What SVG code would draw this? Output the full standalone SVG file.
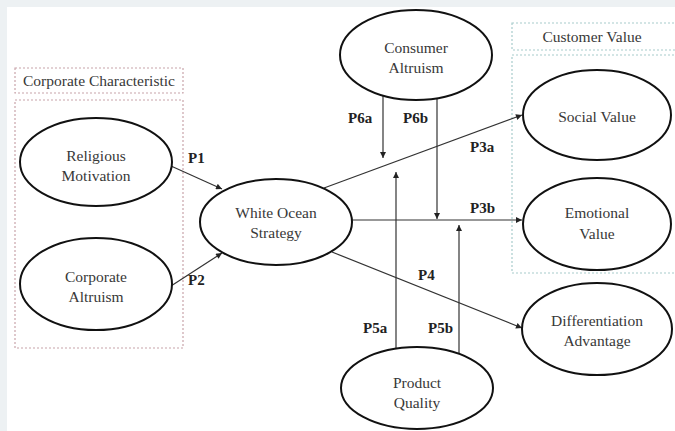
<svg xmlns="http://www.w3.org/2000/svg" width="675" height="431" viewBox="0 0 675 431" font-family="Liberation Serif, Times New Roman, serif">
<defs>
<style>
.bg{fill:#ffffff}
.strip{fill:#edf1f3}
.node{fill:#ffffff;stroke:#111;stroke-width:2}
.nt{font-size:15.5px;fill:#383838;text-anchor:middle}
.lbl{font-size:15px;font-weight:bold;fill:#222}
.edge{fill:none;stroke:#333;stroke-width:1.2;marker-end:url(#ah)}
.boxR{fill:none;stroke:#c8a4aa;stroke-width:1.2;stroke-dasharray:2,2}
.boxT{fill:none;stroke:#a8cccc;stroke-width:1.2;stroke-dasharray:2,2}
</style>
<marker id="ah" viewBox="0 0 10 10" refX="10" refY="5" markerWidth="7" markerHeight="6" markerUnits="userSpaceOnUse" orient="auto">
<path d="M0,0 L10,5 L0,10 z" fill="#222"/>
</marker>
</defs>
<rect class="bg" x="0" y="0" width="675" height="431"/>
<rect class="strip" x="0" y="0" width="675" height="7"/>
<rect class="strip" x="0" y="0" width="7" height="431"/>

<g id="group-corporate">
<rect class="boxR" x="15" y="68" width="168" height="25"/>
<text class="nt" x="99" y="86">Corporate Characteristic</text>
<rect class="boxR" x="15" y="100" width="168" height="248"/>
</g>
<g id="group-customer">
<rect class="boxT" x="512" y="23" width="170" height="27"/>
<text class="nt" x="592" y="42">Customer Value</text>
<rect class="boxT" x="512" y="55" width="170" height="218"/>
</g>

<g id="connectors">
<line class="edge" x1="171" y1="166" x2="222" y2="189"/>
<line class="edge" x1="171" y1="286" x2="222" y2="253"/>
<line class="edge" x1="324" y1="188" x2="522" y2="115"/>
<line class="edge" x1="352" y1="220" x2="522" y2="220"/>
<line class="edge" x1="332" y1="252" x2="522" y2="328"/>
<line class="edge" x1="383" y1="96" x2="383" y2="158"/>
<line class="edge" x1="437" y1="98" x2="437" y2="219"/>
<line class="edge" x1="396" y1="349" x2="396" y2="172"/>
<line class="edge" x1="459" y1="353" x2="459" y2="225"/>
<text class="lbl" x="188" y="163">P1</text>
<text class="lbl" x="188" y="285">P2</text>
<text class="lbl" x="348" y="123">P6a</text>
<text class="lbl" x="403" y="123">P6b</text>
<text class="lbl" x="470" y="152">P3a</text>
<text class="lbl" x="470" y="213">P3b</text>
<text class="lbl" x="418" y="280">P4</text>
<text class="lbl" x="363" y="333">P5a</text>
<text class="lbl" x="428" y="333">P5b</text>
</g>

<g id="religious-motivation">
<ellipse class="node" cx="96" cy="162" rx="76" ry="44"/>
<text class="nt" x="96" y="161">Religious</text>
<text class="nt" x="96" y="181">Motivation</text>
</g>
<g id="corporate-altruism">
<ellipse class="node" cx="96" cy="284" rx="76" ry="46"/>
<text class="nt" x="96" y="282">Corporate</text>
<text class="nt" x="96" y="302">Altruism</text>
</g>
<g id="white-ocean-strategy">
<ellipse class="node" cx="276" cy="222" rx="76" ry="43"/>
<text class="nt" x="276" y="218">White Ocean</text>
<text class="nt" x="276" y="238">Strategy</text>
</g>
<g id="consumer-altruism">
<ellipse class="node" cx="416" cy="55" rx="76" ry="45"/>
<text class="nt" x="416" y="53">Consumer</text>
<text class="nt" x="416" y="73">Altruism</text>
</g>
<g id="social-value">
<ellipse class="node" cx="597" cy="115" rx="74" ry="45"/>
<text class="nt" x="597" y="122">Social Value</text>
</g>
<g id="emotional-value">
<ellipse class="node" cx="597" cy="224" rx="74" ry="46"/>
<text class="nt" x="597" y="218">Emotional</text>
<text class="nt" x="597" y="239">Value</text>
</g>
<g id="differentiation-advantage">
<ellipse class="node" cx="597" cy="329" rx="75" ry="46"/>
<text class="nt" x="597" y="326">Differentiation</text>
<text class="nt" x="597" y="346">Advantage</text>
</g>
<g id="product-quality">
<ellipse class="node" cx="417" cy="388" rx="76" ry="41"/>
<text class="nt" x="417" y="388">Product</text>
<text class="nt" x="417" y="408">Quality</text>
</g>
</svg>
